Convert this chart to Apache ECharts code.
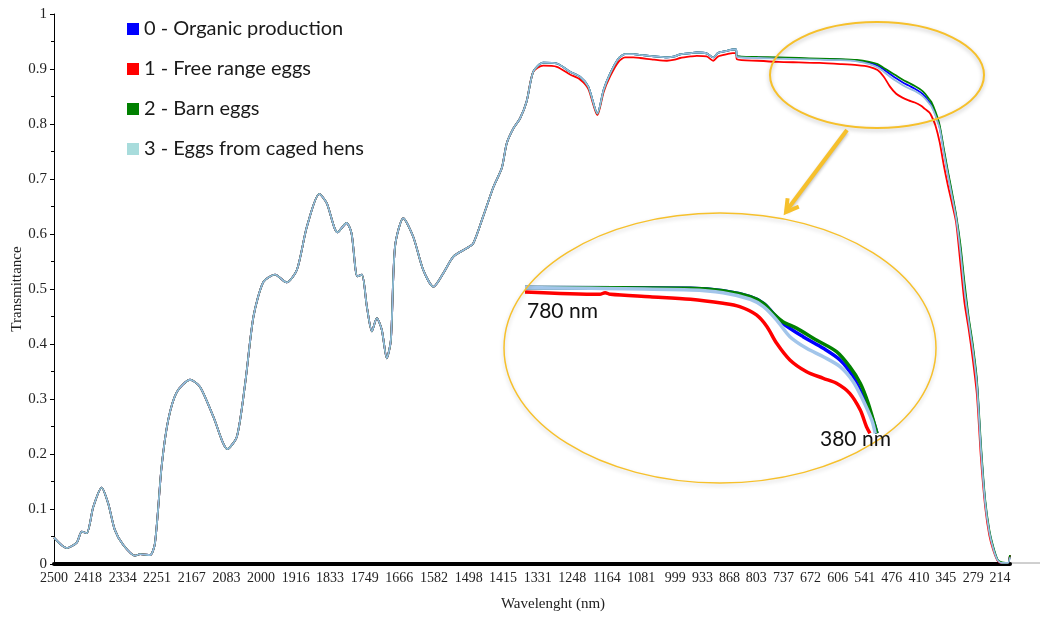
<!DOCTYPE html>
<html lang="en">
<head>
  <meta charset="UTF-8">
  <title>Transmittance</title>
  <script src="https://cdn.jsdelivr.net/npm/echarts@6/dist/echarts.min.js"></script>
</head>
<body style="margin:0;background:#fff">
<div id="box" style="width:1040px;height:618px;"></div>
<script>
  // wavelength tick labels (nm)
  var xTicks = [2500,2418,2334,2251,2167,2083,2000,1916,1833,1749,1666,1582,1498,1415,1331,
    1248,1164,1081,999,933,868,803,737,672,606,541,476,410,345,279,214];

  // part where the four spectra coincide
  var wlA = [2500,2469,2445,2433,2421,2405,2385,2369,2353,2333,2304,2292,2268,2256,2240,2224,2203,
    2171,2147,2115,2081,2058,2038,2018,1994,1966,1938,1913,1889,1859,1841,1815,1793,1781,1767,1756,
    1744,1732,1720,1708,1696,1686,1676,1656,1632,1608,1583,1559,1535,1503,1487,1463,1438,1418,1406,
    1390,1374,1358,1342];
  var baseA = [0.048,0.029,0.039,0.059,0.056,0.104,0.139,0.110,0.062,0.035,0.015,0.018,0.016,0.038,
    0.177,0.262,0.313,0.335,0.322,0.268,0.209,0.232,0.329,0.450,0.513,0.526,0.512,0.535,0.613,0.673,
    0.656,0.603,0.620,0.601,0.523,0.526,0.468,0.423,0.447,0.426,0.374,0.407,0.577,0.629,0.595,0.535,
    0.504,0.529,0.559,0.574,0.583,0.632,0.686,0.720,0.765,0.792,0.810,0.841,0.895];

  // part where they separate
  var wlB = [1318,1285,1253,1229,1209,1187,1172,1156,1136,1120,1100,1084,1050,1019,1000,987,960,947,
    923,907,895,874,860,852,850,800,750,700,650,600,560,530,510,495,480,465,450,435,420,405,395,385,
    380,370,360,350,340,330,320,310,300,290,280,270,260,250,240,230,220,210,200,195,190];
  var organicB = [0.9115,0.910,0.895,0.886,0.868,0.819,0.862,0.892,0.919,0.927,0.927,0.9255,0.923,0.921,
    0.923,0.9265,0.929,0.930,0.9285,0.921,0.9295,0.933,0.9355,0.9355,
    0.923,0.921,0.920,0.919,0.918,0.917,0.915,0.911,0.906,0.899,0.891,0.883,0.876,0.870,0.864,0.857,0.850,0.840,
    0.835,0.817,0.794,0.751,0.710,0.671,0.630,0.575,0.503,0.445,0.394,0.330,0.208,0.113,0.059,0.028,0.007,
    0.002,0.002,0.002,0.016];
  var freeRangeB = [0.906,0.904,0.890,0.881,0.864,0.816,0.858,0.887,0.913,0.921,0.921,0.920,0.917,0.915,
    0.917,0.920,0.923,0.924,0.923,0.915,0.923,0.927,0.929,0.929,
    0.9176,0.915,0.913,0.912,0.911,0.909,0.907,0.904,0.898,0.886,0.868,0.855,0.848,0.843,0.839,0.833,0.827,0.821,
    0.815,0.797,0.767,0.725,0.688,0.655,0.620,0.548,0.475,0.428,0.373,0.308,0.190,0.104,0.052,0.024,0.006,
    0.002,0.002,0.002,0.016];
  var barnB = [0.9115,0.910,0.895,0.886,0.868,0.819,0.862,0.892,0.919,0.927,0.927,0.9255,0.923,0.921,
    0.923,0.9265,0.929,0.930,0.9285,0.921,0.9295,0.933,0.9355,0.9355,
    0.9236,0.922,0.921,0.920,0.919,0.918,0.9164,0.913,0.909,0.902,0.895,0.888,0.881,0.875,0.869,0.862,0.855,0.845,
    0.840,0.822,0.798,0.755,0.714,0.675,0.634,0.582,0.512,0.450,0.400,0.336,0.215,0.117,0.062,0.030,0.008,
    0.003,0.002,0.002,0.016];
  var cagedB = [0.9115,0.910,0.895,0.886,0.868,0.819,0.862,0.892,0.919,0.927,0.927,0.9255,0.923,0.921,
    0.923,0.9265,0.929,0.930,0.9285,0.921,0.9295,0.933,0.9355,0.9355,
    0.922,0.920,0.919,0.918,0.917,0.916,0.914,0.909,0.903,0.895,0.886,0.878,0.871,0.865,0.860,0.853,0.846,0.837,
    0.832,0.815,0.792,0.748,0.707,0.668,0.628,0.570,0.498,0.442,0.391,0.326,0.205,0.111,0.058,0.027,0.007,
    0.002,0.002,0.002,0.012];

  // magnified 780-380 nm view (inset)
  var insetOrganic = [[780,0.926],[592,0.9254],[555,0.9233],[524,0.9181],[509,0.9124],[498,0.9037],[487,0.8951],
    [464,0.8835],[441,0.8734],[422,0.8633],[407,0.8488],[396,0.8315],[386,0.8141],[380,0.7997]];
  var insetFreeRange = [[780,0.9222],[695,0.9202],[689,0.9216],[683,0.9202],[638,0.9181],[592,0.9159],[555,0.9124],
    [536,0.9095],[517,0.9023],[505,0.8921],[494,0.8777],[479,0.8633],[460,0.8531],[441,0.8474],[426,0.8431],
    [411,0.8344],[399,0.8199],[392,0.8055],[388,0.7997]];
  var insetBarn = [[780,0.926],[592,0.9254],[555,0.9233],[524,0.9181],[509,0.9124],[498,0.9037],[487,0.8965],
    [471,0.8907],[449,0.8806],[426,0.8705],[411,0.8575],[399,0.8431],[390,0.8257],[380,0.7997]];
  var insetCaged = [[780,0.926],[592,0.9239],[555,0.9216],[524,0.9159],[509,0.9095],[494,0.8979],[479,0.8835],
    [460,0.8734],[441,0.8661],[422,0.8575],[407,0.8445],[396,0.8286],[386,0.8113],[382,0.7997]];

  var names = ['0 - Organic production','1 - Free range eggs','2 - Barn eggs','3 - Eggs from caged hens'];

  function pairs(wl, vals) {
    return wl.map(function (w, i) { return [w, vals[i]]; });
  }
  var wlAll = wlA.concat(wlB);

  var serif = 'Liberation Serif';
  var myChart = echarts.init(document.getElementById('box'));

  function mainLine(name, vals, color, legendColor) {
    return {
      name: name, type: 'line', data: pairs(wlAll, baseA.concat(vals)),
      xAxisIndex: 0, yAxisIndex: 0, showSymbol: false, symbol: 'none', smooth: 0.25,
      itemStyle: {color: legendColor || color},
      lineStyle: {color: color, width: 1.8}
    };
  }
  function insetLine(name, data, color, legendColor) {
    return {
      name: name, type: 'line', data: data,
      xAxisIndex: 1, yAxisIndex: 1, showSymbol: false, symbol: 'none', smooth: 0.3,
      itemStyle: {color: legendColor || color},
      lineStyle: {color: color, width: 3.5}
    };
  }

  var option = {
    animation: false,
    grid: [
      {left: 54, right: 30, top: 14, bottom: 54, outerBoundsMode: 'none'},
      {left: 525, top: 283, width: 352, height: 150, outerBoundsMode: 'none'}
    ],
    legend: {
      data: names, orient: 'vertical', left: 122, top: 13,
      icon: 'rect', itemWidth: 12, itemHeight: 12, itemGap: 18,
      textStyle: {fontFamily: 'Lato', fontSize: 20, color: '#1a1a1a', lineHeight: 22}
    },
    xAxis: [{
      type: 'value', inverse: true, min: 190, max: 2500, offset: 2,
      name: 'Wavelenght (nm)', nameLocation: 'middle', nameGap: 31, nameMoveOverlap: false,
      nameTextStyle: {fontFamily: serif, fontSize: 15, color: '#222', padding: [0, 0, 0, 42]},
      axisLine: {lineStyle: {color: '#000', width: 4}},
      axisTick: {show: false},
      axisLabel: {customValues: xTicks, hideOverlap: false, margin: 5,
        fontFamily: serif, fontSize: 14, color: '#222',
        formatter: function (v) { return String(v); }},
      splitLine: {show: false}
    }, {
      type: 'value', gridIndex: 1, inverse: true, min: 380, max: 780, show: false
    }],
    yAxis: [{
      type: 'value', min: 0, max: 1, interval: 0.1,
      name: 'Transmittance', nameLocation: 'middle', nameGap: 29, nameMoveOverlap: false,
      nameTextStyle: {fontFamily: serif, fontSize: 15, color: '#222'},
      axisLine: {show: true, lineStyle: {color: '#000', width: 1}},
      axisTick: {show: true, length: 4, lineStyle: {color: '#000'}},
      minorTick: {show: true, splitNumber: 2, length: 3, lineStyle: {color: '#000'}},
      axisLabel: {margin: 7, fontFamily: serif, fontSize: 15, color: '#222'},
      splitLine: {show: false}
    }, {
      type: 'value', gridIndex: 1, min: 0.80, max: 0.93, show: false
    }],
    series: [
      mainLine(names[0], organicB, '#0000ff'),
      mainLine(names[1], freeRangeB, '#ff0000'),
      mainLine(names[2], barnB, '#008000'),
      mainLine(names[3], cagedB, '#94bbdf', '#a8dcdc'),
      insetLine(names[0], insetOrganic, '#0000ff'),
      insetLine(names[1], insetFreeRange, '#ff0000'),
      insetLine(names[2], insetBarn, '#008000'),
      insetLine(names[3], insetCaged, '#a2c5ea', '#a8dcdc')
    ],
    graphic: [
      {type: 'line', silent: true, z: 0, shape: {x1: 1010, y1: 563, x2: 1040, y2: 563},
        style: {stroke: '#a0a0a0', lineWidth: 1}},
      {type: 'ellipse', silent: true, z: 100, shape: {cx: 877, cy: 75, rx: 107, ry: 53},
        style: {fill: 'none', stroke: '#f6c02c', lineWidth: 2,
          shadowBlur: 4, shadowColor: 'rgba(0,0,0,0.25)', shadowOffsetY: 2}},
      {type: 'ellipse', silent: true, z: 100, shape: {cx: 720, cy: 348, rx: 216, ry: 135},
        style: {fill: 'none', stroke: '#f6c02c', lineWidth: 1.5,
          shadowBlur: 4, shadowColor: 'rgba(0,0,0,0.2)', shadowOffsetY: 2}},
      {type: 'line', silent: true, z: 100, shape: {x1: 847, y1: 130, x2: 787, y2: 210},
        style: {stroke: '#f6c02c', lineWidth: 4, shadowBlur: 3, shadowColor: 'rgba(0,0,0,0.25)', shadowOffsetY: 2}},
      {type: 'polyline', silent: true, z: 100, shape: {points: [[787.6, 198.2], [786, 212], [798.8, 206.6]]},
        style: {fill: 'none', stroke: '#f6c02c', lineWidth: 4}},
      {type: 'text', silent: true, z: 101, left: 527, top: 301,
        style: {text: '780 nm', font: '21px Lato', fill: '#111'}},
      {type: 'text', silent: true, z: 101, left: 820, top: 429,
        style: {text: '380 nm', font: '21px Lato', fill: '#111'}}
    ]
  };
  myChart.setOption(option);
</script>
</body>
</html>
